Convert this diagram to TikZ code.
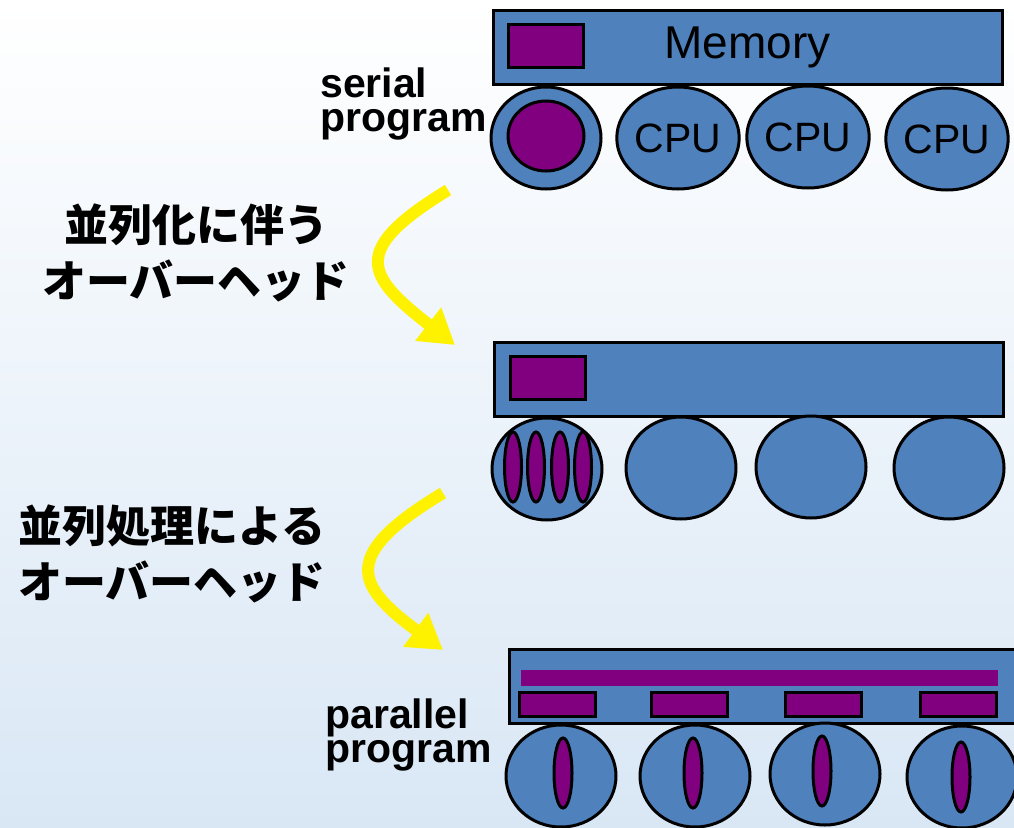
\documentclass[tikz,border=0pt]{standalone}
\usepackage{fontspec}
\setmainfont{Liberation Sans}
\newfontfamily\jpfont{Noto Sans CJK JP}
\usetikzlibrary{shapes.geometric, arrows.meta}
\definecolor{cpublue}{RGB}{79,129,189}
\definecolor{progpurple}{RGB}{128,0,128}
\definecolor{bgblue}{RGB}{217,231,245}
\tikzset{>=stealth}

\begin{document}
\begin{tikzpicture}[x=1pt, y=-1pt,
    memory/.style={draw, line width=3pt, fill=cpublue, minimum width=509pt,
        minimum height=74pt, inner sep=0pt, font=\fontsize{46}{46}\selectfont},
    cpu/.style={ellipse, draw, line width=3pt, fill=cpublue, minimum width=110pt,
        minimum height=102pt, inner sep=0pt, font=\fontsize{41}{41}\selectfont},
    chunk/.style={draw, line width=3pt, fill=progpurple, inner sep=0pt,
        minimum width=75pt, minimum height=43pt},
    thread/.style={ellipse, draw, line width=3pt, fill=progpurple, inner sep=0pt,
        minimum width=17pt, minimum height=70pt},
    overhead/.style={line width=12pt, yellow, -{Triangle[length=34pt, width=40pt]}},
    prgname/.style={align=left, inner sep=0pt, font=\bfseries\fontsize{41}{34}\selectfont},
    jp/.style={align=center, inner sep=0pt, font=\jpfont\bfseries\fontsize{44}{56}\selectfont}]
    \clip (0,0) rectangle (1014,827);
    \shade[top color=white, bottom color=bgblue] (0,0) rectangle (1014,827);

    % serial program
    \node[memory] (m1) at (747.5,47.5) {Memory};
    \node[chunk] (d1) at (545.5,45.5) {};
    \node[cpu] (c11) at (546,138) {};
    \node[cpu] (c12) at (678,138) {CPU};
    \node[cpu] (c13) at (808,137) {CPU};
    \node[cpu] (c14) at (947,139) {CPU};
    \node[thread, minimum width=76pt] (p1) at (546,136) {};
    \node[prgname, anchor=west] (serial) at (320,104) {serial\\program};

    % after parallelization
    \node[memory] (m2) at (748.5,379.5) {};
    \node[chunk] (d2) at (547.5,377.5) {};
    \node[cpu] (c21) at (547,469) {};
    \node[cpu] (c22) at (681,468) {};
    \node[cpu] (c23) at (811,467) {};
    \node[cpu] (c24) at (949,468) {};
    \foreach \x [count=\i] in {513,536,560,583}
        \node[thread] (t\i) at (\x,467) {};

    % parallel program
    \node[memory] (m3) at (763.5,686) {};
    \node[fill=progpurple, inner sep=0pt, minimum width=477pt, minimum height=16pt]
        (bar) at (759.5,678) {};
    \foreach \x [count=\i] in {557,689.5,823,958.5}
        \node[chunk, minimum width=76pt, minimum height=24pt] (d3\i) at (\x,704) {};
    \node[cpu] (c31) at (561,776) {};
    \node[cpu] (c32) at (695,776) {};
    \node[cpu] (c33) at (825,774) {};
    \node[cpu] (c34) at (962,777) {};
    \node[thread, minimum width=18pt] (q1) at (563,773) {};
    \node[thread, minimum width=18pt] (q2) at (693,773) {};
    \node[thread, minimum width=18pt] (q3) at (822,771) {};
    \node[thread, minimum width=18pt] (q4) at (961,777) {};
    \node[prgname, anchor=west] (parallel) at (325,735) {parallel\\program};

    % overheads
    \node[jp] (ovh1) at (196,253) {並列化に伴う\\オーバーヘッド};
    \node[jp] (ovh2) at (172,554) {並列処理による\\オーバーヘッド};
    \coordinate (a1s) at (448,190);
    \coordinate (a1e) at (455,345);
    \coordinate (a2s) at (443,493);
    \coordinate (a2e) at (443,650);
    \draw[overhead] (a1s) .. controls (350,250) and (365,275) .. (a1e);
    \draw[overhead] (a2s) .. controls (340,555) and (355,585) .. (a2e);
\end{tikzpicture}
\end{document}
